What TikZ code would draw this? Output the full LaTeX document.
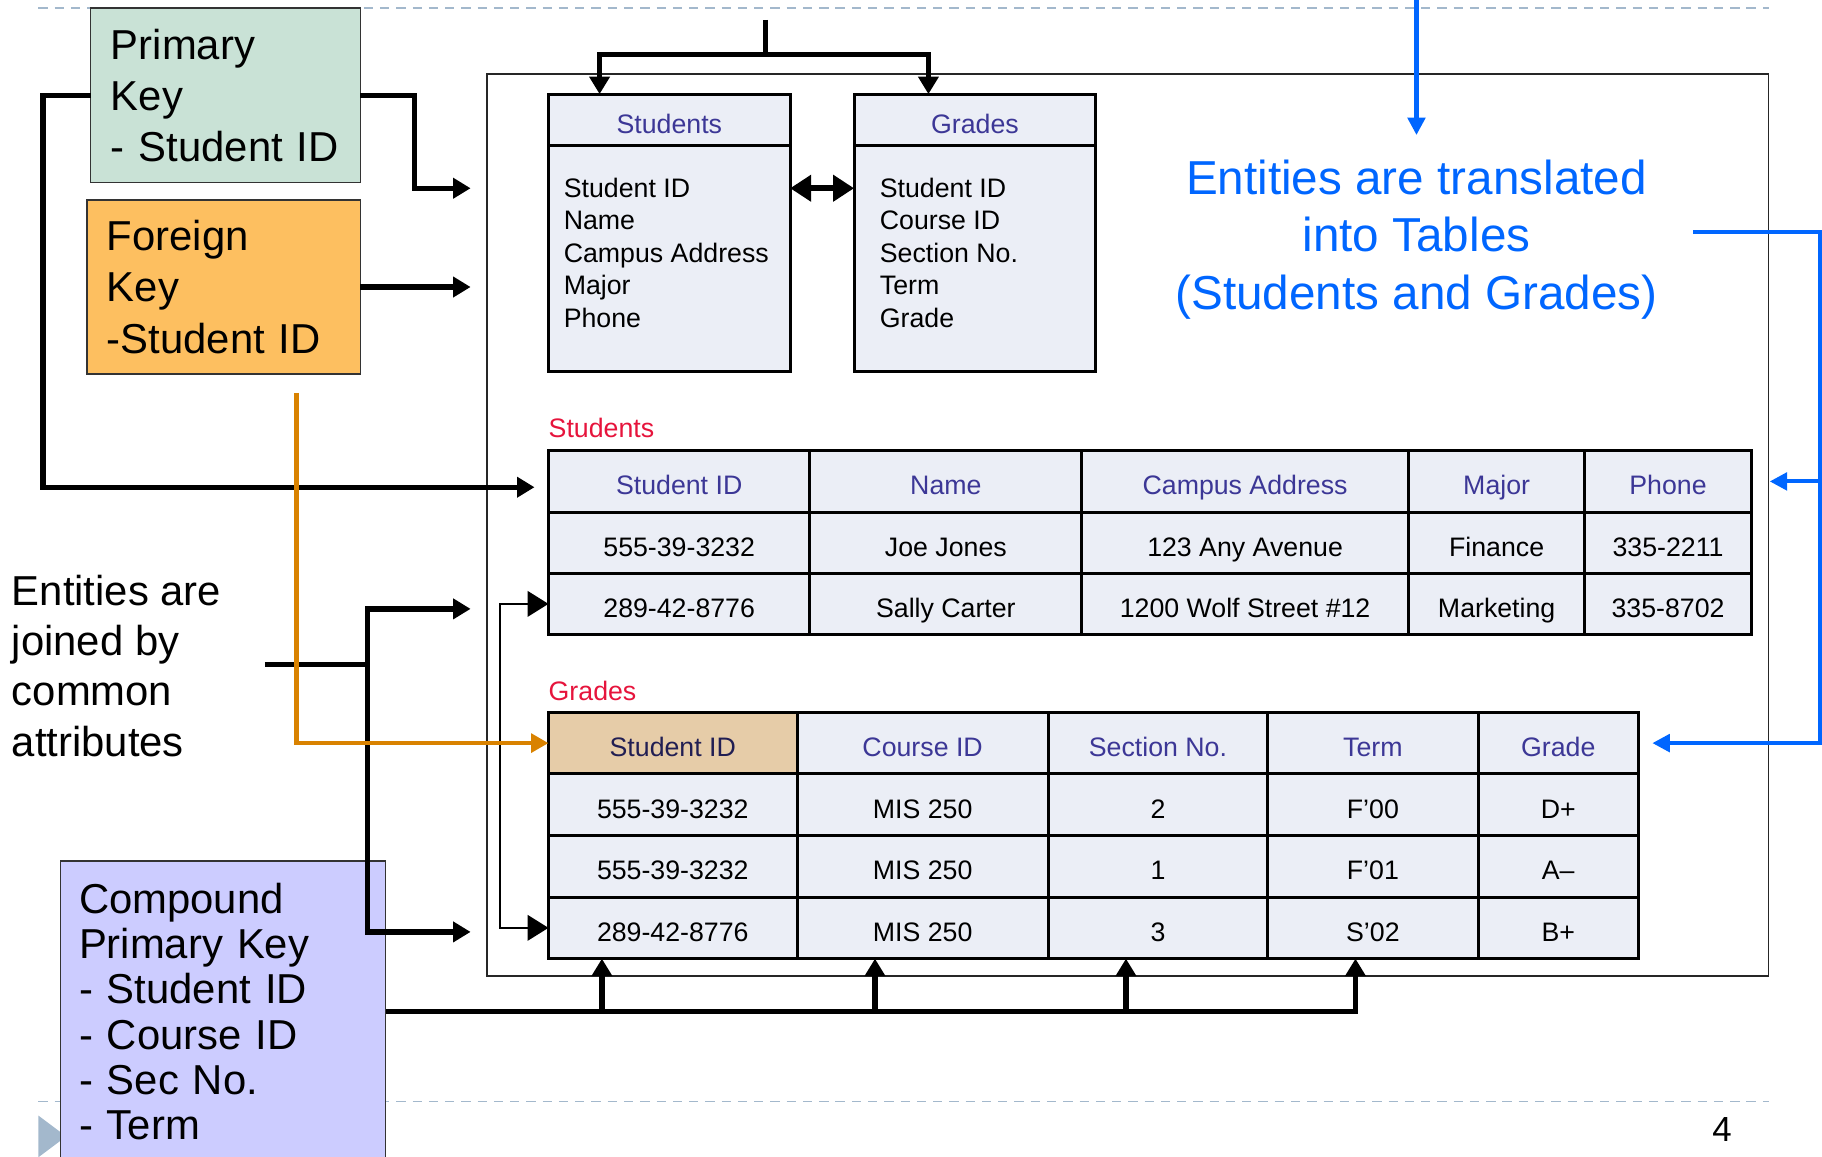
\documentclass[tikz,border=0pt]{standalone}
\usepackage{fontspec}
\setmainfont{Liberation Sans}
\usetikzlibrary{arrows.meta,calc,positioning}
\definecolor{pkgreen}{RGB}{201,226,214}
\definecolor{fkorange}{RGB}{253,191,96}
\definecolor{cklilac}{RGB}{204,204,255}
\definecolor{joinorange}{RGB}{217,130,0}
\definecolor{noteblue}{RGB}{0,102,255}
\definecolor{tabfill}{RGB}{235,238,246}
\definecolor{headblue}{RGB}{60,55,150}
\definecolor{titlered}{RGB}{230,20,60}
\definecolor{keytan}{RGB}{230,204,168}
\definecolor{guidegray}{RGB}{163,184,204}
\tikzset{
  keybox/.style={draw=black!80, line width=1.2pt, align=left, outer sep=0pt, inner ysep=0pt, font=\fontsize{36}{44}\selectfont},
  cell/.style={draw, line width=2.6pt, fill=tabfill, outer sep=0pt, inner sep=0pt, text height=23pt, text depth=0pt, font=\fontsize{23}{28}\selectfont},
  headcell/.style={cell, text=headblue},
  entbox/.style={cell, minimum width=208pt},
  attrs/.style={align=left, inner sep=0pt, font=\fontsize{23}{28}\selectfont},
  redtitle/.style={text=titlered, inner sep=0pt, font=\fontsize{23}{28}\selectfont},
  plaintext/.style={align=left, inner sep=0pt, font=\fontsize{36}{43.3}\selectfont},
  bluetext/.style={text=noteblue, align=center, inner sep=0pt, font=\fontsize{41}{49.5}\selectfont},
  conn/.style={draw, line width=4.5pt, -{Triangle[length=15pt,width=17pt]}},
  plainline/.style={draw, line width=4.5pt},
  thinconn/.style={draw, line width=2pt, {Triangle[length=18pt,width=22pt]}-{Triangle[length=18pt,width=22pt]}},
  dblconn/.style={draw, line width=5pt, {Triangle[length=18pt,width=22pt]}-{Triangle[length=18pt,width=22pt]}},
  orangeconn/.style={draw=joinorange, line width=3.8pt, -{Triangle[length=15pt,width=16pt]}},
  blueline/.style={draw=noteblue, line width=3.5pt},
  blueconn/.style={blueline, -{Triangle[length=15pt,width=15pt]}},
  guide/.style={draw=guidegray, line width=1.5pt, dash pattern=on 8pt off 6pt},
  gcol1/.style={fill=keytan, text=headblue!55!black},
}

\begin{document}
\begin{tikzpicture}[x=1pt,y=-1pt]
    \useasboundingbox (0,0) rectangle (1568,995);
    % slide guides and the outer frame
    \draw[guide] (33,7) -- (1522,7);
    \draw[guide] (33,948) -- (1522,948);
    \fill[guidegray] (33,960) -- (57,978) -- (33,996) -- cycle;
    \draw[draw=black!85, line width=1.5pt] (419,64) rectangle (1522,840);

    % entity boxes
    \node[entbox, minimum height=44pt, text=headblue] (st-head) at (576,103) {Students};
    \node[entbox, minimum height=195pt, below=0pt of st-head] (st-body) {};
    \node[attrs, anchor=north west] (st-attrs) at ($(st-body.north west)+(13,28)$)
        {Student ID\\Name\\Campus Address\\Major\\Phone};
    \node[entbox, minimum height=44pt, text=headblue] (gr-head) at (839,103) {Grades};
    \node[entbox, minimum height=195pt, below=0pt of gr-head] (gr-body) {};
    \node[attrs, anchor=north west] (gr-attrs) at ($(gr-body.north west)+(22,28)$)
        {Student ID\\Course ID\\Section No.\\Term\\Grade};
    \draw[dblconn] ($(st-body.north east)+(0,37)$) -- ($(gr-body.north west)+(0,37)$);

    % Students table
    \foreach \cx/\w/\i/\hd/\ra/\rb in {584.5/225/1/Student ID/555-39-3232/289-42-8776,
        814/234/2/Name/Joe Jones/Sally Carter,
        1071.5/281/3/Campus Address/123 Any Avenue/1200 Wolf Street \#12,
        1288/152/4/Major/Finance/Marketing,
        1435.5/143/5/Phone/335-2211/335-8702} {
        \node[headcell, minimum width=\w pt, minimum height=52.7pt] (s-h\i) at (\cx,414.3) {\hd};
        \node[cell, minimum width=\w pt, minimum height=52.7pt] (s-a\i) at (\cx,467) {\ra};
        \node[cell, minimum width=\w pt, minimum height=52.7pt] (s-b\i) at (\cx,519.7) {\rb};
    }
    \node[redtitle, above right=11pt and 0pt of s-h1.north west] (s-title) {Students};

    % Grades table
    \foreach \cx/\w/\i/\hd/\ra/\rb/\rc in {579/214/1/Student ID/555-39-3232/555-39-3232/289-42-8776,
        794/216/2/Course ID/MIS 250/MIS 250/MIS 250,
        996.5/189/3/Section No./2/1/3,
        1181.5/181/4/Term/F’00/F’01/S’02,
        1341/138/5/Grade/D+/A–/B+} {
        \node[headcell, gcol\i/.try, minimum width=\w pt, minimum height=53pt] (g-h\i) at (\cx,639.5) {\hd};
        \node[cell, minimum width=\w pt, minimum height=53pt] (g-a\i) at (\cx,692.5) {\ra};
        \node[cell, minimum width=\w pt, minimum height=53pt] (g-b\i) at (\cx,745.5) {\rb};
        \node[cell, minimum width=\w pt, minimum height=53pt] (g-c\i) at (\cx,798.5) {\rc};
    }
    \node[redtitle, above right=10pt and 0pt of g-h1.north west] (g-title) {Grades};

    % key boxes and notes
    \node[keybox, fill=pkgreen, text width=197pt, inner xsep=17.5pt, minimum height=150pt] (pk) at (194,82)
        {Primary\\Key\\- Student ID};
    \node[keybox, fill=fkorange, text width=201pt, inner xsep=17pt, minimum height=150pt] (fk) at (192.5,247)
        {Foreign\\Key\\-Student ID};
    \node[keybox, fill=cklilac, text width=248pt, inner xsep=16pt, minimum height=259pt,
        font=\fontsize{36}{39}\selectfont] (ck) at (192,870.5)
        {Compound\\Primary Key\\- Student ID\\- Course ID\\- Sec No.\\- Term};
    \node[plaintext, anchor=west] (joinText) at (10,573)
        {Entities are\\joined by\\common\\attributes};
    \node[bluetext] (transText) at (1219,206)
        {Entities are translated\\into Tables\\(Students and Grades)};
    \node[font=\fontsize{30}{36}\selectfont, inner sep=0pt] (pageNo) at (1482,972) {4};

    % free ends of the connectors
    \coordinate (topIn) at (659,17);
    \coordinate (topFork) at (659,47);
    \coordinate (pkOut) at (405,162);
    \coordinate (fkOut) at (405,247);
    \coordinate (fkDown) at (255,338);
    \coordinate (joinOut) at (228,572);
    \coordinate (joinFork) at (316,572);
    \coordinate (joinUp) at (405,524);
    \coordinate (joinDown) at (405,802);
    \coordinate (blueIn) at (1219,0);
    \coordinate (blueOut) at (1457,200);
    \coordinate (blueCorner) at (1566,200);

    % black connectors
    \draw[conn] (topIn) -- (topFork) -| ($(st-head.north west)+(44,0)$);
    \draw[conn] (topFork) -| ($(gr-head.north west)+(64,0)$);
    \draw[conn, shorten >=12pt] (pk.west) -- ++(-41,0) |- ($(s-h1.west)+(0,5)$);
    \draw[conn] (pk.east) -- ++(47,0) |- (pkOut);
    \draw[conn] (fk.east) -- (fkOut);
    \draw[plainline] (joinOut) -- (joinFork);
    \draw[conn] (joinFork) |- (joinUp);
    \draw[conn] (joinFork) |- (joinDown);
    \draw[thinconn] (s-b1.west) -- ++(-42,0) |- (g-c1.west);
    \draw[orangeconn] (fkDown) |- (g-h1.west);

    % compound key
    \draw[conn] (ck.east) -| ($(g-c4.south)+(-15,0)$);
    \foreach \i/\dx in {1/-61,2/-41,3/-27.5} {
        \coordinate (ck-in\i) at ($(g-c\i.south)+(\dx,0)$);
        \draw[conn] (ck-in\i |- ck.east) -- (ck-in\i);
    }

    % blue connectors
    \draw[blueconn] (blueIn) -- ($(transText.north)+(0,-21)$);
    \draw[blueconn, shorten >=12pt] (blueOut) -- (blueCorner) |- (g-h5.east);
    \draw[blueconn, shorten >=16pt] (blueCorner |- s-h5.east) -- (s-h5.east);
\end{tikzpicture}
\end{document}
